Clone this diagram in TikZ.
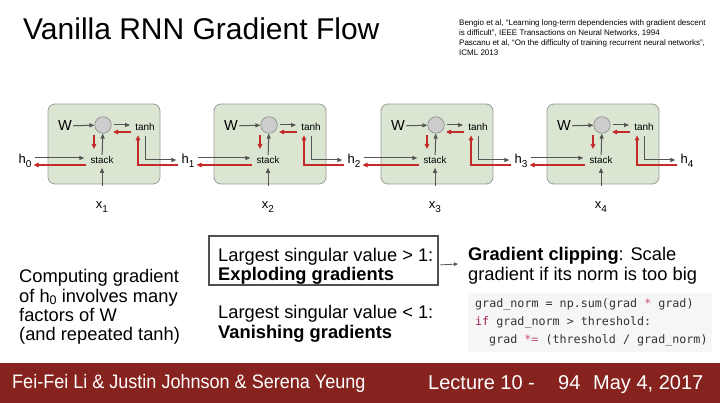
\documentclass[tikz,border=0pt]{standalone}
\usepackage{fontspec}
\usepackage{graphicx}
\setmainfont{Liberation Sans}
\newfontfamily\codefont{DejaVu Sans Mono}
\usetikzlibrary{arrows.meta,calc}

\definecolor{cellfill}{HTML}{DAE6D1}
\definecolor{cellline}{HTML}{9C9C9C}
\definecolor{dk}{HTML}{555555}
\definecolor{rd}{HTML}{C52A2A}
\definecolor{foot}{HTML}{86231F}
\definecolor{codebg}{HTML}{F6F6F6}
\definecolor{kw}{HTML}{A71D5D}
\definecolor{op}{HTML}{C9507F}
\definecolor{codetxt}{HTML}{333333}
\definecolor{boxline}{HTML}{505050}
\definecolor{circfill}{HTML}{CDCDCD}
\definecolor{circline}{HTML}{8A8A8A}

\newcommand\mylbl[2]{#1\raisebox{-3.5pt}{\fontsize{10}{10}\selectfont #2}}

\begin{document}
\begin{tikzpicture}[x=1pt,y=-1pt,
  cellbox/.style={draw=cellline, fill=cellfill, rounded corners=7pt, line width=0.8pt},
  dka/.style={draw=dk, line width=1pt, -{Triangle[length=5pt,width=4pt]}},
  rda/.style={draw=rd, line width=1.2pt, -{Triangle[length=5pt,width=4.5pt]}},
  gra/.style={draw=dk, line width=0.8pt, -{Triangle[length=4pt,width=3.5pt]}},
  ctext/.style={inner sep=1pt},
  txt/.style={anchor=base west, inner sep=0pt},
  big/.style={font=\fontsize{18.3}{22}\selectfont},
  codeline/.style={anchor=base west, inner sep=0pt, text=codetxt, font=\codefont\fontsize{11.7}{14}\selectfont},
  foottxt/.style={anchor=base west, inner sep=0pt, text=white, font=\fontsize{20}{24}\selectfont}]
\useasboundingbox (0,0) rectangle (720,403);
\fill[white] (0,0) rectangle (720,403);

% title and reference
\node[txt, font=\fontsize{30}{36}\selectfont] (title) at (23,40) {Vanilla RNN Gradient Flow};
\begin{scope}[every node/.style={txt, font=\fontsize{8}{10}\selectfont}]
\node (ref1) at (459,26) {Bengio et al, “Learning long-term dependencies with gradient descent};
\node (ref2) at (459,36) {is difficult”, IEEE Transactions on Neural Networks, 1994};
\node (ref3) at (459,46) {Pascanu et al, “On the difficulty of training recurrent neural networks”,};
\node (ref4) at (459,56) {ICML 2013};
\end{scope}

% RNN cells
\node[ctext, font=\fontsize{13}{15}\selectfont] (h0) at (25,161) {\mylbl{h}{0}};
\foreach \i/\xo in {1/48,2/214,3/381,4/547}{
  \pgfmathtruncatemacro\p{\i-1}
  \draw[cellbox] (\xo,104) rectangle (\xo+112,184);
  \node[ctext, font=\fontsize{14.5}{16}\selectfont] (W\i) at (\xo+17,126) {W};
  \node[circle, draw=circline, fill=circfill, minimum size=16.5pt, inner sep=0, line width=0.6pt] (c\i) at (\xo+55,125) {};
  \node[ctext, font=\fontsize{10}{12}\selectfont] (t\i) at (\xo+97,126.5) {tanh};
  \node[ctext, font=\fontsize{9.8}{12}\selectfont] (s\i) at (\xo+54,160) {stack};
  \node[ctext, font=\fontsize{13}{15}\selectfont] (x\i) at (\xo+54,207) {\mylbl{x}{\i}};
  \node[ctext, font=\fontsize{13}{15}\selectfont] (h\i) at (\xo+140,161) {\mylbl{h}{\i}};
  % forward (dark) arrows
  \draw[dka] (W\i) -- (c\i);
  \draw[dka] ($(c\i)+(11,0)$) -- ($(t\i.west)+(-4,-1.5)$);
  \draw[dka] (s\i) -- (c\i);
  \draw[dka] ($(x\i.north)+(0,-15)$) -- ($(s\i.south)+(0,3)$);
  \draw[dka] ($(h\p.east)+(2,-3)$) -- ($(s\i.west)+(-5,-2)$);
  \draw[dka] ($(t\i.south)+(0,5)$) |- ($(h\i.west)+(-4,-1)$);
  % backward (red) arrows
  \draw[rda] ($(t\i.west)+(-3,5.5)$) -- ($(c\i)+(10,7)$);
  \draw[rda] ($(c\i)+(-9,10)$) -- ($(c\i)+(-9,24)$);
  \draw[rda] ($(s\i.west)+(-3,5)$) -- ($(h\p.east)+(1,4)$);
  \draw[rda] ($(h\i.west)+(-2,4)$) -| ($(t\i.south)+(-7,4)$);
}

% left text
\begin{scope}[every node/.style={txt, big}]
\node (l1) at (19,283) {Computing gradient};
\node (l2) at (19,302) {of h\raisebox{-2.5pt}{\fontsize{12.5}{12}\selectfont 0} involves many};
\node (l3) at (19,321) {factors of W};
\node (l4) at (19,340) {(and repeated tanh)};
\end{scope}

% singular value box
\node[draw=boxline, line width=1.8pt, minimum width=229pt, minimum height=49pt, anchor=north west, inner sep=0] (expbox) at (208,235) {};
\begin{scope}[every node/.style={txt, big}]
\node (b1) at (218,262) {Largest singular value > 1:};
\node (b2) at (218,280) {\bfseries Exploding gradients};
\node (b3) at (218,318) {Largest singular value < 1:};
\node (b4) at (218,338) {\bfseries Vanishing gradients};
\node (g1) at (468,261) {\textbf{Gradient clipping}: Scale};
\node (g2) at (468,280) {gradient if its norm is too big};
\end{scope}
\draw[gra] ($(expbox.east)+(1.5,4.5)$) -- ($(g1.base west)+(-10,3)$);

% code
\fill[codebg] (468,293) rectangle (712,352);
\node[codeline] (k1) at (475,308) {grad\_norm = np.sum(grad \textcolor{op}{*} grad)};
\node[codeline] (k2) at (475,325.5) {\textcolor{kw}{if} grad\_norm > threshold:};
\node[codeline] (k3) at (489,343) {grad \textcolor{op}{*=} (threshold / grad\_norm)};

% footer
\fill[foot] (0,363) rectangle (720,403);
\node[foottxt, font=\fontsize{19.5}{24}\selectfont] (authors) at (12,388) {\scalebox{0.925}[1]{Fei-Fei Li \& Justin Johnson \& Serena Yeung}};
\node[foottxt] (lec) at (428,389) {Lecture 10 -};
\node[foottxt] (pg) at (558,389) {94};
\node[foottxt] (date) at (593,389) {May 4, 2017};
\end{tikzpicture}
\end{document}
